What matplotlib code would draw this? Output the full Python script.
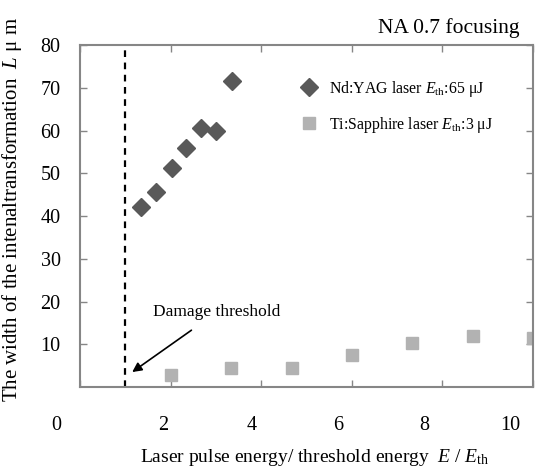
import matplotlib
matplotlib.use("Agg")
import matplotlib.pyplot as plt
import matplotlib.transforms as mtransforms

# data
yag_x = [1.34, 1.68, 2.02, 2.34, 2.67, 3.01, 3.36]
yag_y = [42.0, 45.7, 51.3, 56.0, 60.5, 59.9, 71.5]
ti_x = [2.0, 3.33, 4.67, 6.0, 7.33, 8.67, 10.0]
ti_y = [2.7, 4.4, 4.5, 7.6, 10.3, 12.0, 11.5]
x_ticks = [0, 2, 4, 6, 8, 10]
y_ticks = [10, 20, 30, 40, 50, 60, 70, 80]
threshold = 1.0

plt.rcParams['font.family'] = ['Liberation Serif', 'DejaVu Serif']
plt.rcParams['mathtext.fontset'] = 'custom'
plt.rcParams['mathtext.rm'] = 'Liberation Serif'
plt.rcParams['mathtext.it'] = 'Liberation Serif:italic'

fig = plt.figure(figsize=(5.45, 4.74), dpi=100)
ax = fig.add_axes([0.147, 0.1835, 0.831, 0.7215])

ax.plot(yag_x, yag_y, linestyle='none', marker='D', markersize=9.5,
        color='#595959', label=r'Nd:YAG laser $E_{\mathrm{th}}$:65 μJ')
ax.plot(ti_x, ti_y, linestyle='none', marker='s', markersize=8.5,
        color='#b2b2b2', label=r'Ti:Sapphire laser $E_{\mathrm{th}}$:3 μJ')
ax.axvline(threshold, color='black', linestyle=(0, (3, 2.5)), linewidth=1.6)

ax.annotate('Damage threshold', xy=(1.15, 3.5), xytext=(3.02, 17.5),
            ha='center', va='center', fontsize=12.5,
            arrowprops=dict(arrowstyle='-|>', color='black', lw=1.2,
                            mutation_scale=14, shrinkA=9, shrinkB=0))

ax.set_xlim(0, 10)
ax.set_ylim(0, 80)
ax.set_xticks(x_ticks)
ax.set_yticks(y_ticks)
ax.tick_params(direction='in', length=5, width=1, color='#868686',
               top=True, right=True, labelsize=14.5)
ax.tick_params(axis='x', pad=21)
ax.tick_params(axis='y', pad=14)
# the x tick labels sit a little left of their ticks in the original
label_shift_px = [-24, -8, -10, -14, -18, -23]
for lab, dx in zip(ax.get_xticklabels(), label_shift_px):
    off = mtransforms.ScaledTranslation(dx / 100, 0, fig.dpi_scale_trans)
    lab.set_transform(lab.get_transform() + off)
for s in ax.spines.values():
    s.set_color('#868686')
    s.set_linewidth(1.5)

ax.legend(loc='upper left', bbox_to_anchor=(299 / 545, 1 - 79 / 474),
          bbox_transform=fig.transFigure, frameon=False, fontsize=11.4,
          handlelength=1.2, handletextpad=0.7, labelspacing=1.0,
          borderpad=0, borderaxespad=0)

fig.text(520 / 545, 1 - 28 / 474, 'NA 0.7 focusing', ha='right', va='center', fontsize=15.5)
fig.text(315 / 545, 1 - 458 / 474, r'Laser pulse energy/ threshold energy  $E$ / $E_{\mathrm{th}}$',
         ha='center', va='center', fontsize=14)
fig.text(12 / 545, 1 - 209 / 474, r'The width of the intenaltransformation  $L$ μ m',
         ha='center', va='center', rotation=90, fontsize=15)

fig.savefig('out.png', dpi=100)
